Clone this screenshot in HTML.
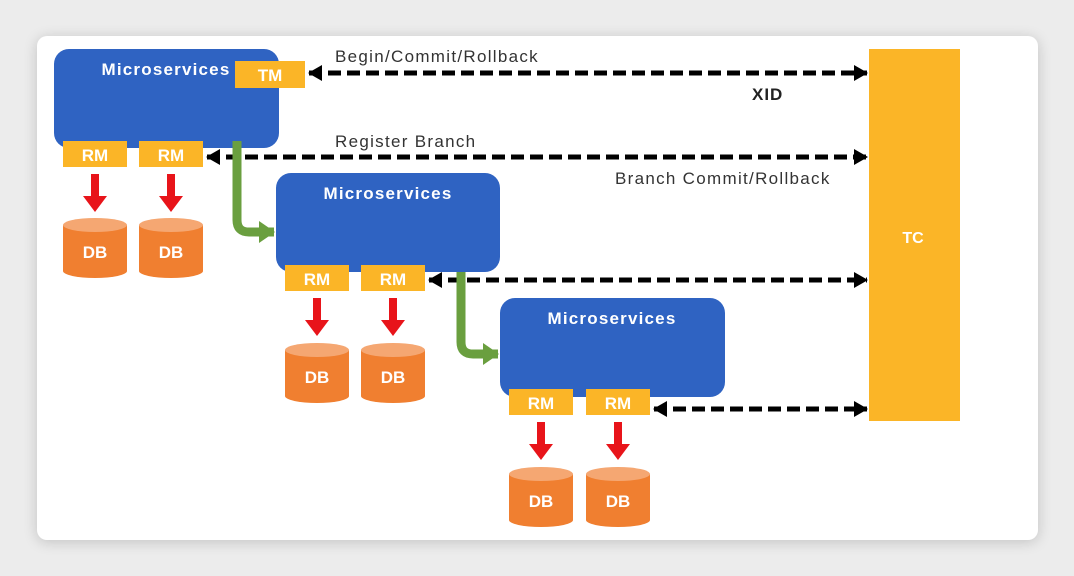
<!DOCTYPE html>
<html><head><meta charset="utf-8"><style>
html,body{margin:0;padding:0;background:#ececec;}
body{width:1074px;height:576px;overflow:hidden;position:relative;font-family:"Liberation Sans",sans-serif;}
.card{position:absolute;left:37px;top:36px;width:1001px;height:504px;background:#fff;border-radius:10px;box-shadow:0 2px 14px rgba(0,0,0,0.18);}
svg{position:absolute;left:0;top:0;}
</style></head><body>
<div class="card"></div>
<svg width="1074" height="576" viewBox="0 0 1074 576">
<defs>
<marker id="ah" markerWidth="14" markerHeight="16" refX="13" refY="8" orient="auto-start-reverse" markerUnits="userSpaceOnUse">
<path d="M0,0 L14,8 L0,16 Z" fill="#000"/></marker>
<marker id="ga" markerWidth="16" markerHeight="22" refX="15" refY="11" orient="auto" markerUnits="userSpaceOnUse">
<path d="M0,0 L16,11 L0,22 Z" fill="#6a9f3f"/></marker>
<g id="db">
<path d="M0,7 L0,53 A32,7 0 0 0 64,53 L64,7 Z" fill="#f07f30"/>
<ellipse cx="32" cy="7" rx="32" ry="7" fill="#f5a772"/>
<text x="32" y="40" text-anchor="middle" font-size="17" font-weight="bold" fill="#fff">DB</text>
</g>
<g id="red"><rect x="-4" y="0" width="8" height="24" fill="#e8141a"/><path d="M-12,22 L12,22 L0,38 Z" fill="#e8141a"/></g>
</defs>
<rect x="869" y="49" width="91" height="372" fill="#fbb527"/>
<text x="913" y="243" text-anchor="middle" font-size="16" font-weight="bold" fill="#fff">TC</text>
<g stroke="#000" stroke-width="5" stroke-dasharray="13,6" fill="none">
<line x1="309" y1="73" x2="867" y2="73" marker-start="url(#ah)" marker-end="url(#ah)"/>
<line x1="207" y1="157" x2="867" y2="157" marker-start="url(#ah)" marker-end="url(#ah)"/>
<line x1="429" y1="280" x2="867" y2="280" marker-start="url(#ah)" marker-end="url(#ah)"/>
<line x1="654" y1="409" x2="867" y2="409" marker-start="url(#ah)" marker-end="url(#ah)"/>
</g>
<g font-size="17" fill="#333" letter-spacing="1.3">
<text x="335" y="62">Begin/Commit/Rollback</text>
<text x="335" y="147">Register Branch</text>
<text x="615" y="184">Branch Commit/Rollback</text>
</g>
<text x="752" y="100" font-size="17" font-weight="bold" fill="#222" letter-spacing="1">XID</text>
<rect x="54" y="49" width="225" height="99" rx="15" fill="#2f63c2"/>
<text x="166" y="75" text-anchor="middle" font-size="17" font-weight="bold" fill="#fff" letter-spacing="1.2">Microservices</text>
<rect x="235" y="61" width="70" height="27" fill="#fbb527"/>
<text x="270" y="81" text-anchor="middle" font-size="17" font-weight="bold" fill="#fff">TM</text>
<path d="M237,141 L237,220 Q237,232 249,232 L274,232" stroke="#6a9f3f" stroke-width="9" fill="none" marker-end="url(#ga)"/>
<path d="M461,265 L461,342 Q461,354 473,354 L498,354" stroke="#6a9f3f" stroke-width="9" fill="none" marker-end="url(#ga)"/>
<rect x="276" y="173" width="224" height="99" rx="15" fill="#2f63c2"/>
<text x="388" y="199" text-anchor="middle" font-size="17" font-weight="bold" fill="#fff" letter-spacing="1.2">Microservices</text>
<rect x="500" y="298" width="225" height="99" rx="15" fill="#2f63c2"/>
<text x="612" y="324" text-anchor="middle" font-size="17" font-weight="bold" fill="#fff" letter-spacing="1.2">Microservices</text>
<g fill="#fbb527">
<rect x="63" y="141" width="64" height="26"/><rect x="139" y="141" width="64" height="26"/>
<rect x="285" y="265" width="64" height="26"/><rect x="361" y="265" width="64" height="26"/>
<rect x="509" y="389" width="64" height="26"/><rect x="586" y="389" width="64" height="26"/>
</g>
<g font-size="17" font-weight="bold" fill="#fff" text-anchor="middle">
<text x="95" y="161">RM</text><text x="171" y="161">RM</text>
<text x="317" y="285">RM</text><text x="393" y="285">RM</text>
<text x="541" y="409">RM</text><text x="618" y="409">RM</text>
</g>
<use href="#red" x="95" y="174"/><use href="#red" x="171" y="174"/>
<use href="#red" x="317" y="298"/><use href="#red" x="393" y="298"/>
<use href="#red" x="541" y="422"/><use href="#red" x="618" y="422"/>
<use href="#db" x="63" y="218"/><use href="#db" x="139" y="218"/>
<use href="#db" x="285" y="343"/><use href="#db" x="361" y="343"/>
<use href="#db" x="509" y="467"/><use href="#db" x="586" y="467"/>
</svg>
</body></html>
